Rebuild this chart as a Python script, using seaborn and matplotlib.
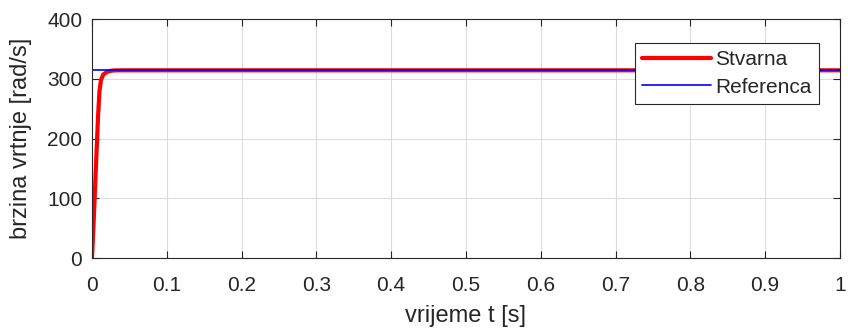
import numpy as np
import pandas as pd
import matplotlib
matplotlib.use("Agg")
import matplotlib.pyplot as plt
import seaborn as sns

# podaci ocitani sa slike
t_stv = [0.0, 0.002, 0.004, 0.006, 0.008, 0.010, 0.012, 0.015, 0.020, 0.025, 0.030, 0.040, 1.0]
w_stv = [0.0, 55.0, 115.0, 175.0, 235.0, 280.0, 298.0, 307.0, 311.5, 313.3, 314.0, 314.16, 314.16]
t_ref = [0.0, 1.0]
w_ref = [314.16, 314.16]

sns.set_theme(style="white")
plt.rcParams['font.family'] = ['Liberation Sans', 'DejaVu Sans']

fig = plt.figure(figsize=(8.48, 3.29), dpi=100)
ax = fig.add_axes([0.1085, 0.2158, 0.882, 0.7264])

df_stv = pd.DataFrame({"t": t_stv, "w": w_stv})
df_ref = pd.DataFrame({"t": t_ref, "w": w_ref})
sns.lineplot(data=df_stv, x="t", y="w", color="#ff0000", linewidth=3, label="Stvarna", ax=ax)
sns.lineplot(data=df_ref, x="t", y="w", color="#0000ff", linewidth=1.2, label="Referenca", ax=ax)

ax.set_xlim(0, 1)
ax.set_ylim(0, 400)
ax.set_xticks(np.arange(0, 1.01, 0.1))
ax.set_xticklabels(["0", "0.1", "0.2", "0.3", "0.4", "0.5", "0.6", "0.7", "0.8", "0.9", "1"])
ax.set_yticks([0, 100, 200, 300, 400])
ax.grid(True, color="#dcdcdc", linewidth=0.8)
ax.set_axisbelow(True)
for s in ax.spines.values():
    s.set_color("#262626")
    s.set_linewidth(0.8)
ax.tick_params(direction="in", length=5, width=0.8, colors="#262626",
               labelsize=15, top=True, right=True, bottom=True, left=True)
ax.tick_params(axis="x", pad=13)
ax.tick_params(axis="y", pad=7)
ax.set_xlabel("vrijeme t [s]", fontsize=17, color="#262626", labelpad=7)
ax.set_ylabel("brzina vrtnje [rad/s]", fontsize=17, color="#262626", labelpad=11)

leg = ax.legend(loc="upper right", bbox_to_anchor=(0.972, 0.90), fontsize=15,
                frameon=True, fancybox=False, edgecolor="#262626", framealpha=1,
                borderpad=0.35, handlelength=3.3, handletextpad=0.2, labelspacing=0.4,
                borderaxespad=0)
leg.get_frame().set_linewidth(0.8)

fig.savefig("out.png", dpi=100)
